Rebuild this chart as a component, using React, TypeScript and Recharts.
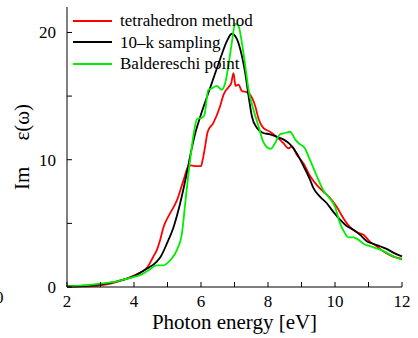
import { LineChart, Line, XAxis, YAxis } from "recharts";

// Im eps(omega) vs photon energy, three BZ integration schemes

const tetraE = [2, 2.5, 3, 3.5, 4, 4.2, 4.4, 4.58, 4.68, 4.78, 4.88, 5.08, 5.28, 5.48, 5.63, 5.7, 5.85, 6.0, 6.05, 6.12, 6.2, 6.37, 6.57, 6.67, 6.82, 6.9, 6.97, 7.03, 7.12, 7.22, 7.37, 7.47, 7.62, 7.72, 7.86, 8.06, 8.26, 8.46, 8.61, 8.71, 8.86, 9.06, 9.26, 9.46, 9.65, 9.85, 10.05, 10.25, 10.45, 10.65, 10.85, 11.05, 11.25, 11.44, 11.64, 11.84, 12];
const tetraV = [0.02, 0.05, 0.13, 0.4, 0.9, 1.15, 1.55, 2.4, 2.9, 3.7, 4.7, 5.8, 6.8, 8.4, 9.5, 9.55, 9.5, 9.5, 10.0, 11.0, 12.2, 12.9, 14.2, 15.1, 15.7, 16.0, 16.8, 15.8, 15.9, 15.4, 15.3, 15.1, 14.2, 13.2, 12.5, 12.2, 11.8, 11.3, 10.9, 11.05, 10.4, 9.7, 8.7, 8.0, 7.5, 7.0, 6.3, 5.4, 4.7, 4.3, 4.1, 3.55, 3.2, 2.8, 2.5, 2.3, 2.2];

const kE = [2, 2.5, 3, 3.5, 4, 4.39, 4.68, 4.8, 4.98, 5.18, 5.38, 5.58, 5.7, 5.83, 5.98, 6.12, 6.32, 6.57, 6.77, 6.92, 7.07, 7.17, 7.32, 7.42, 7.52, 7.67, 7.86, 8.06, 8.26, 8.46, 8.66, 8.86, 9.06, 9.26, 9.35, 9.55, 9.75, 9.95, 10.15, 10.35, 10.55, 10.75, 10.95, 11.14, 11.34, 11.54, 11.74, 12];
const kV = [0.05, 0.1, 0.2, 0.45, 0.85, 1.45, 2.0, 2.4, 3.4, 4.7, 6.6, 9.0, 10.6, 12.1, 13.4, 14.5, 16.0, 17.9, 19.3, 19.9, 19.5, 18.7, 16.8, 15.0, 13.4, 12.5, 12.1, 12.0, 11.8, 11.6, 11.2, 10.5, 9.5, 8.4, 7.8, 7.1, 6.6, 5.9, 5.3, 4.8, 4.5, 4.1, 3.6, 3.4, 3.2, 3.0, 2.7, 2.4];

const baldE = [2, 2.5, 3, 3.5, 4, 4.2, 4.4, 4.68, 4.88, 5.08, 5.28, 5.43, 5.53, 5.63, 5.7, 5.78, 5.88, 6.03, 6.1, 6.22, 6.32, 6.47, 6.62, 6.72, 6.82, 6.92, 7.02, 7.12, 7.22, 7.32, 7.42, 7.57, 7.72, 7.86, 7.96, 8.08, 8.21, 8.36, 8.51, 8.66, 8.81, 8.91, 9.1, 9.25, 9.46, 9.65, 9.8, 10.0, 10.15, 10.3, 10.4, 10.55, 10.65, 10.85, 11.05, 11.34, 11.54, 11.74, 12];
const baldV = [0.05, 0.12, 0.27, 0.45, 0.8, 0.95, 1.25, 1.7, 1.7, 2.1, 2.9, 4.2, 6.6, 9.0, 10.5, 12.0, 13.2, 13.3, 13.5, 15.5, 15.6, 15.8, 15.5, 16.0, 17.4, 19.2, 20.7, 20.5, 19.2, 17.4, 15.5, 13.9, 12.6, 11.4, 11.0, 10.85, 11.3, 12.0, 12.1, 12.2, 11.6, 11.3, 10.9, 10.0, 8.7, 7.6, 7.1, 6.3, 5.0, 4.2, 3.9, 3.9, 3.8, 3.4, 3.2, 2.95, 2.7, 2.4, 2.15];

const seriesNames = ["tetrahedron method", "10\u2013k sampling", "Baldereschi point"];
const seriesColors = ["#ff0000", "#000000", "#00ee00"];

const xTicks = [2, 3, 4, 5, 6, 7, 8, 9, 10, 11, 12];
const yTicks = [0, 5, 10, 15, 20];

const rows = (e: number[], v: number[]) => e.map((x, i) => ({ e: x, v: v[i] }));
const seriesData = [rows(tetraE, tetraV), rows(kE, kV), rows(baldE, baldV)];

const font = "Liberation Serif, Tinos, Times New Roman, DejaVu Serif, serif";
const tickStyle = { fill: "#000", fontSize: 17, fontFamily: font };
const axisStroke = { stroke: "#000", strokeWidth: 1 };

export default function App() {
  return (
    <div style={{ position: "absolute", left: 0, top: 0, width: 418, height: 338, background: "#fff", fontFamily: font }}>
      <LineChart width={418} height={338} margin={{ top: 7, right: 16, bottom: 0, left: 0 }} style={{ fontFamily: font }}>
        <XAxis
          xAxisId='b'
          type='number'
          dataKey='e'
          domain={[2, 12]}
          ticks={xTicks}
          tickFormatter={(v) => (v % 2 === 0 ? String(v) : "")}
          height={51}
          tickSize={-5}
          tickMargin={13}
          axisLine={axisStroke}
          tickLine={axisStroke}
          tick={tickStyle}
          label={{ value: "Photon energy [eV]", position: "insideBottom", offset: 9, style: { fill: "#000", fontSize: 21, fontFamily: font } }}
        />
        <XAxis
          xAxisId='t'
          orientation='top'
          type='number'
          dataKey='e'
          domain={[2, 12]}
          ticks={xTicks}
          tickFormatter={() => ""}
          height={0}
          tickSize={-5}
          axisLine={axisStroke}
          tickLine={axisStroke}
        />
        <YAxis
          yAxisId='l'
          domain={[0, 22]}
          ticks={yTicks}
          tickFormatter={(v) => (v % 10 === 0 ? String(v) : "")}
          width={67}
          tickSize={-5}
          tickMargin={16}
          axisLine={axisStroke}
          tickLine={axisStroke}
          tick={tickStyle}
          label={{ value: "Im\u2003\u00a0\u03b5(\u03c9)", angle: -90, position: "insideLeft", offset: 22, style: { fill: "#000", fontSize: 21, fontFamily: font, textAnchor: "middle" } }}
        />
        <YAxis
          yAxisId='r'
          orientation='right'
          domain={[0, 22]}
          ticks={yTicks}
          tickFormatter={() => ""}
          width={0}
          tickSize={-5}
          axisLine={axisStroke}
          tickLine={axisStroke}
        />
        {seriesData.map((d, i) => (
          <Line
            key={seriesNames[i]}
            xAxisId='b'
            yAxisId='l'
            data={d}
            dataKey='v'
            name={seriesNames[i]}
            type='monotone'
            stroke={seriesColors[i]}
            strokeWidth={1.8}
            dot={false}
            isAnimationActive={false}
          />
        ))}
      </LineChart>

      {/* legend, top-left inside the frame */}
      <div style={{ position: "absolute", left: 73, top: 10, fontSize: 17, lineHeight: "21.5px", color: "#000" }}>
        {seriesNames.map((n, i) => (
          <div key={n} style={{ display: "flex", alignItems: "center", height: 21.5 }}>
            <span style={{ display: "inline-block", width: 39, height: 2, background: seriesColors[i], marginRight: 8 }} />
            <span>{n}</span>
          </div>
        ))}
      </div>

      {/* clipped tick label from the neighbouring panel */}
      <div style={{ position: "absolute", left: -5, top: 289, fontSize: 17, lineHeight: "17px" }}>0</div>
    </div>
  );
}
